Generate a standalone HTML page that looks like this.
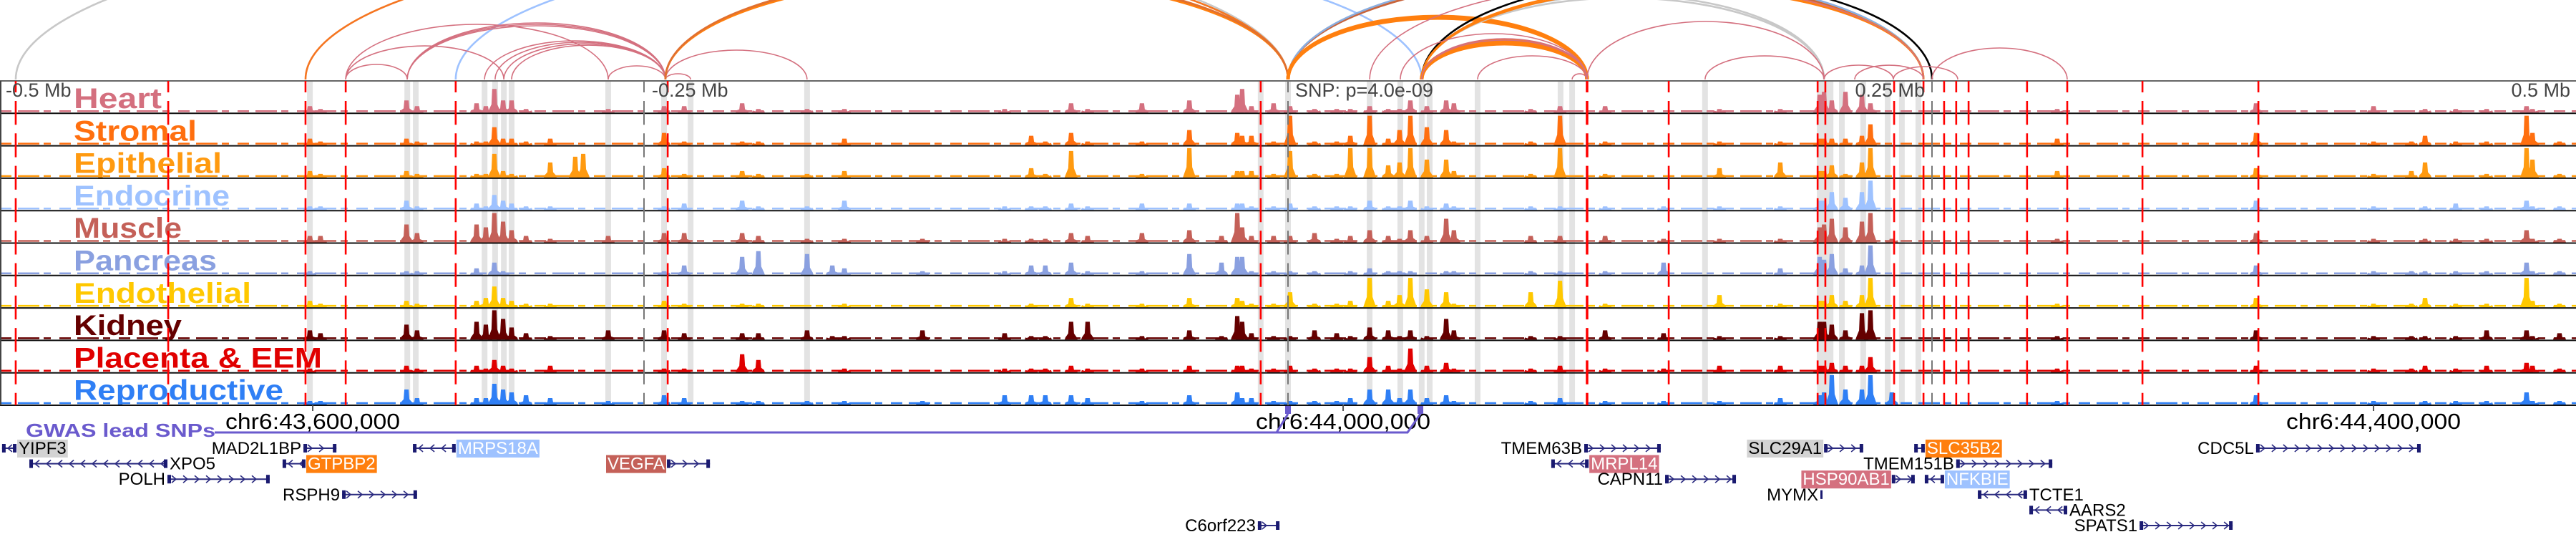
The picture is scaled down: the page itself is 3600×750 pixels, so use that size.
<!DOCTYPE html>
<html><head><meta charset="utf-8"><style>
html,body{margin:0;padding:0;background:#fff;width:3600px;height:750px;overflow:hidden}
svg{display:block}
text{font-family:"Liberation Sans","DejaVu Sans",sans-serif}
</style></head><body>
<svg id="chart" xmlns="http://www.w3.org/2000/svg" width="3600" height="750" viewBox="0 0 3600 750"></svg>
<script>
// ---- data (kb from window start, -500 kb) ----
const tissues=["Heart","Stromal","Epithelial","Endocrine","Muscle","Pancreas","Endothelial","Kidney","Placenta & EEM","Reproductive"];
const tissueColors=["#d4707f","#ff6f0f","#ff9a10","#9ec2ff","#c46058","#8aa0e0","#ffc800","#650000","#e00000","#2f7ff5"];
const peakPos=[120.3,124.4,157.8,161.9,185,188.6,191.9,195.3,198.6,204.2,213.6,223.3,226.4,236.1,257.8,265.6,288.1,294.4,313.3,323.1,327.8,358.1,390,400.3,405.8,415.8,422.2,443.3,461.7,474.2,480.3,482.2,485.8,494.4,500.8,510.3,518.9,524.2,531.7,538.9,543.3,547.5,553.9,561.4,564.4,594.2,605.6,623.1,645.8,667.5,691.1,706.4,708.1,711.1,716.4,722.8,726.1,734.4,798.6,875.8,921.4,936.1,941.4,953.3,965.3,980.8,983.1,993.6];
const heart=[2,1,4,2,3,2,8,4,4,1,0,0,0,1,2,2,3,1,1,0,1,0,1,0,0,3,1,3,4,0,6,8,2,3,2,1,1,1,2,1,1,4,2,4,3,1,2,2,0,1,1,6,7,4,7,6,3,0,1,3,2,0,1,1,1,2,1,0];
const stromal=[2,1,2,1,1,1,6,2,2,1,2,0,0,0,4,1,1,1,0,0,2,0,0,3,1,4,1,1,5,0,4,3,3,1,10,1,1,3,10,2,5,10,6,5,1,1,10,1,0,1,1,2,2,2,2,3,7,0,2,4,1,1,3,1,1,10,4,1];
const epithelial=[2,1,2,1,1,1,8,2,1,0,5,7,8,0,3,1,2,1,1,0,2,0,0,3,1,9,0,1,10,0,2,2,2,1,9,1,1,10,10,4,5,10,6,6,2,1,10,1,0,3,5,2,2,4,1,5,10,0,2,3,1,2,5,0,1,10,6,1];
const endocrine=[1,1,3,1,2,1,5,3,2,1,1,0,0,0,1,2,3,1,1,0,3,0,1,1,1,2,1,2,2,0,2,2,1,1,2,1,1,1,3,1,1,3,1,2,1,1,1,1,1,1,1,3,3,6,4,6,10,0,0,3,1,0,1,2,1,3,1,1];
const muscle=[2,2,6,3,6,5,10,7,4,2,1,0,0,2,3,3,3,2,1,0,1,1,1,1,1,3,2,3,4,2,10,5,2,2,2,3,1,2,4,2,1,4,2,8,4,2,2,2,1,1,1,5,6,8,5,7,10,1,1,3,1,0,1,1,1,4,1,1];
const pancreas=[1,0,1,1,2,0,4,1,0,0,0,0,0,0,1,3,6,8,7,3,2,1,1,3,3,4,1,1,7,4,6,6,1,1,1,1,0,1,2,1,1,1,0,1,1,1,1,1,4,0,2,6,5,7,2,3,10,0,0,3,1,1,1,1,1,4,1,1];
const endothelial=[2,1,2,1,2,3,7,3,2,1,1,0,0,0,2,1,1,1,0,0,1,0,0,1,0,3,1,1,3,0,3,2,1,1,5,1,1,2,10,2,4,10,6,5,1,5,9,1,0,4,1,2,2,4,2,4,10,0,1,3,1,1,3,1,1,10,2,1];
const kidney=[3,2,5,3,6,5,10,7,4,2,1,0,0,3,3,2,2,2,3,1,1,3,2,1,1,6,6,1,3,1,8,6,2,1,1,3,2,1,4,3,1,3,1,7,3,1,1,3,2,1,1,6,6,5,3,9,10,0,1,3,1,1,1,1,3,3,1,2];
const placenta=[1,0,2,1,2,1,4,2,1,0,2,0,0,0,1,1,6,4,0,0,1,0,1,1,1,2,1,1,2,0,2,2,1,1,2,1,1,1,5,2,1,8,2,3,1,1,2,1,1,2,2,2,2,3,2,2,5,0,1,2,1,1,2,1,2,3,2,1];
const reproductive=[1,1,5,2,2,2,7,5,4,3,2,0,0,1,3,2,1,1,1,0,1,1,3,3,3,3,2,1,3,0,4,2,2,1,1,1,1,2,5,5,2,5,2,3,1,1,2,1,1,1,2,3,4,10,5,5,10,4,1,3,1,0,1,1,1,4,1,1];
const seriesValues=[heart,stromal,epithelial,endocrine,muscle,pancreas,endothelial,kidney,placenta,reproductive];
const redLines=[6.1,65.3,118.6,134.2,176.9,259.2,489.4,616.1,647.8,705.6,708.6,735.3,746.7,754.7,759.4,764.2,786.9,802.5,831.7,876.7];
const greyBands=[120.3,158.1,161.4,188.1,192.2,195.6,198.6,236.1,257.8,268.1,313.3,489.4,500,531.7,543.6,551.9,555,573.6,605.8,610.3,661.9,706.4,708.6,710.6,715,723.3,732.8,738.3,744.7];
const refLines=[250,500,750];
const refLabels=["-0.5 Mb","-0.25 Mb","SNP: p=4.0e-09","0.25 Mb","0.5 Mb"];
const tickPos=[121.4,521.4,921.4];
const tickLabels=["chr6:43,600,000","chr6:44,000,000","chr6:44,400,000"];
const snpPos=[500,551.4];
const arcStart=[6.1,118.6,176.9,134.2,158.1,158.1,158.1,134.2,134.2,188.1,192.2,195.6,198.6,236.1,258.3,258.3,258.3,258.3,258.3,500,500,500,500,500,551.9,551.9,551.9,551.9,551.9,551.9,551.9,551.9,543.6,551.9,551.9,573.6,610.3,616.1,661.9,531.7,708.1,720,735,750];
const arcEnd=[500,500,551.9,236.1,258.3,258.3,258.3,195.6,158.1,258.3,258.3,258.3,258.3,258.3,313.3,268.1,500,500,500,746.7,746.7,746.7,616.1,616.1,708.1,708.1,750,746.7,746.7,616.1,616.1,616.1,616.1,616.1,616.1,616.1,616.1,708.1,708.1,746.7,735,746.7,760,802.5];
const arcHeight=[217,187,185,77,75,77,79,47,21,54,52,50,48,19,41,8,145,143,147,147,145,149,88,86,118,114,140,130,127,52,50,54,64,55,57,33,8,81,33,135,20,20,18,44];
const arcColor=["#c8c8c8","#f57520","#9ec2ff","#d4707f","#d4707f","#d4707f","#d4707f","#d4707f","#d4707f","#d4707f","#d4707f","#d4707f","#d4707f","#d4707f","#d4707f","#d4707f","#c8643c","#ff7f0e","#e07030","#ff7f0e","#c8643c","#8aaee0","#ff7f0e","#ff7f0e","#c8c8c8","#c8c8c8","#000000","#ff7f0e","#ff7f0e","#ff7f0e","#ff7f0e","#ff7f0e","#d4707f","#d4707f","#d4707f","#d4707f","#d4707f","#d4707f","#d4707f","#d4707f","#d4707f","#d4707f","#d4707f","#d4707f"];
const geneNames=["YIPF3","MAD2L1BP","MRPS18A","TMEM63B","SLC29A1","SLC35B2","CDC5L","XPO5","GTPBP2","VEGFA","MRPL14","TMEM151B","POLH","CAPN11","HSP90AB1","NFKBIE","RSPH9","MYMX","TCTE1","AARS2","C6orf223","SPATS1"];
const geneStart=[0.8,117.8,160.3,615,708.1,743.1,875.8,11.4,109.7,258.9,602.2,759.4,65,646.4,734.4,747.2,132.8,706.7,767.8,787.8,488.3,830.6];
const geneEnd=[6.4,130.6,176.9,644.7,723.3,747.2,939.7,65,118.6,275.6,616.7,796.7,104.7,673.9,743.3,754.7,161.9,707.5,786.9,802.5,496.7,866.7];
const geneStrand=[-1,1,-1,1,1,-1,1,-1,-1,1,-1,1,1,1,1,-1,1,1,-1,-1,1,1];
const geneRow=[0,0,0,0,0,0,0,1,1,1,1,1,2,2,2,2,3,3,3,4,5,5];
const geneLabelSide=["R","L","R","L","L","R","L","R","R","L","R","L","L","L","L","R","L","L","R","R","L","L"];
const geneBg=["#d3d3d3","","#9ec2ff","","#d3d3d3","#ff7f0e","","","#ff7f0e","#c46058","#d4707f","","","","#d4707f","#9ec2ff","","","","","",""];

// ---- scales ----
const PXKB=3.6;
const xs=kb=>kb*PXKB;
const TOP=113, ROWH=45.3, MAXH=40;
const rowTop=i=>TOP+i*ROWH;
const ys=(i,v)=>rowTop(i+1)-2-v/10*MAXH;
const geneY=r=>626+r*21.6;
const NS="http://www.w3.org/2000/svg";
const svg=document.getElementById('chart');
function mk(tag,attrs,parent){const e=document.createElementNS(NS,tag);for(const k in attrs)e.setAttribute(k,attrs[k]);(parent||svg).appendChild(e);return e;}

// arcs
const gArcs=mk('g',{});


const BASE=111;
arcStart.forEach((s,i)=>{
  const x1=xs(s),x2=xs(arcEnd[i]);const a=(x2-x1)/2;const h=arcHeight[i];
  const thick=(arcColor[i]==="#ff7f0e"&&h<100)?5:(arcColor[i]==="#d4707f"?1.6:2.6);
  const p=mk('path',{d:`M${x1} ${BASE} A${a} ${h} 0 0 1 ${x2} ${BASE}`,fill:'none',stroke:arcColor[i],'stroke-width':thick},gArcs);
  
  
});

// grey highlight bands
const gB=mk('g',{});


greyBands.forEach(k=>{
  const r=mk('rect',{x:xs(k)-4,y:TOP,width:8,height:ROWH*10,fill:'#e3e3e3'},gB);
  
  
});

// signal tracks
seriesValues.forEach((vals,ti)=>{
  const g=mk('g',{fill:tissueColors[ti]});
  
  
  const base=rowTop(ti+1)-1;
  const bl=mk('line',{x1:0,x2:3600,y1:base-2,y2:base-2,stroke:tissueColors[ti],'stroke-width':2.5,'stroke-dasharray':'16 9 30 6 10 12'},g);
  
  
  vals.forEach((v,pi)=>{
    if(v<=0)return;
    const x=xs(peakPos[pi]);const yt=ys(ti,v);const ym=base-(base-yt)*0.35;
    const p=mk('path',{d:`M${x-9} ${base} L${x-8} ${base-3} L${x-4} ${ym} L${x-3} ${yt} L${x+3} ${yt} L${x+4} ${ym} L${x+8} ${base-3} L${x+9} ${base} Z`},g);
    
    
  });
});

// track labels
const labelWidths=[123,172,207,218,151,200,248,151,347,293];
tissues.forEach((t,i)=>{
  const tx=mk('text',{x:103,y:rowTop(i)+38,fill:tissueColors[i],'font-size':40,'font-weight':'bold','font-family':'"DejaVu Sans",sans-serif',textLength:labelWidths[i],lengthAdjust:'spacingAndGlyphs'});
  tx.textContent=t;
  
  
});

// separators
for(let i=0;i<=10;i++){
  const l=mk('line',{x1:0,x2:3600,y1:rowTop(i),y2:rowTop(i),stroke:i===0?'#666':'#111','stroke-width':2});
  
  
}
const lb=mk('line',{x1:1,x2:1,y1:TOP,y2:rowTop(10),stroke:'#444','stroke-width':2});



// reference dashed grey lines
refLines.forEach(k=>{
  const l=mk('line',{x1:xs(k),x2:xs(k),y1:TOP,y2:rowTop(10),stroke:'#777','stroke-width':2,'stroke-dasharray':'33.3 12','stroke-dashoffset':17.3});
  
  
});
// red dashed lines
redLines.forEach(k=>{
  const l=mk('line',{x1:xs(k),x2:xs(k),y1:TOP,y2:rowTop(10),stroke:'#ff0000','stroke-width':k===616.1?3.5:2.6,'stroke-dasharray':'33.3 12','stroke-dashoffset':17.3});
  
  
});

// reference labels
const refX=[8,911,1810,2690,3592];
refLabels.forEach((t,i)=>{
  const tx=mk('text',{x:refX[i],y:135,fill:'#444','font-size':27,'text-anchor':i>=3?'end':'start'});
  tx.textContent=t;
  
  
});

// axis ticks
tickPos.forEach((k,i)=>{
  const l=mk('line',{x1:xs(k),x2:xs(k),y1:rowTop(10),y2:574,stroke:'#555','stroke-width':2});
  
  
  const tx=mk('text',{x:xs(k),y:599,'font-size':31,'text-anchor':'middle',fill:'#000',textLength:244,lengthAdjust:'spacingAndGlyphs'});
  tx.textContent=tickLabels[i];
  
  
});

// GWAS track
const gw=mk('text',{x:36,y:610,fill:'#6a5acd','font-size':26,'font-weight':'bold','font-family':'"DejaVu Sans",sans-serif',textLength:265,lengthAdjust:'spacingAndGlyphs'});
gw.textContent='GWAS lead SNPs';


const s1=xs(snpPos[0]),s2=xs(snpPos[1]);
const gp=mk('path',{d:`M300 604 H${s1-16} L${s1} 578 M${s1-16} 604 H${s2-18} L${s2} 578`,fill:'none',stroke:'#6a5acd','stroke-width':3});


snpPos.forEach(k=>{
  const r=mk('rect',{x:xs(k)-4,y:567,width:8,height:11,fill:'#6a5acd'});
  
  
});

// genes
geneNames.forEach((n,i)=>{
  const g=mk('g',{});
  
  
  const x1=xs(geneStart[i]),x2=xs(geneEnd[i]),y=geneY(geneRow[i]);
  mk('line',{x1:x1,x2:x2,y1:y,y2:y,stroke:'#2b2b80','stroke-width':2},g);
  const st=geneStrand[i];
  for(let x=x1+10;x<x2-6;x+=16){
    mk('path',{d:st>0?`M${x-4} ${y-5} L${x+2} ${y} L${x-4} ${y+5}`:`M${x+4} ${y-5} L${x-2} ${y} L${x+4} ${y+5}`,fill:'none',stroke:'#2b2b80','stroke-width':1.6},g);
  }
  mk('rect',{x:x1,y:y-6,width:Math.min(5,x2-x1),height:12,fill:'#1a1a70'},g);
  mk('rect',{x:Math.max(x1,x2-5),y:y-6,width:Math.min(5,x2-x1),height:12,fill:'#1a1a70'},g);
  const left=geneLabelSide[i]==='L';
  const bgc=geneBg[i];
  const bgRect=bgc?mk('rect',{y:y-12,height:25,fill:bgc},g):null;
  const tx=mk('text',{x:left?x1-3:x2+3,y:y+8,'font-size':24,'text-anchor':left?'end':'start',fill:(bgc&&bgc!=='#d3d3d3')?'#fff':'#000'},g);
  tx.textContent=n;
  
  
  if(bgRect){const w=tx.getComputedTextLength()+4;bgRect.setAttribute('x',left?x1-w-1:x2+1);bgRect.setAttribute('width',w);}
});
</script>
</body></html>
